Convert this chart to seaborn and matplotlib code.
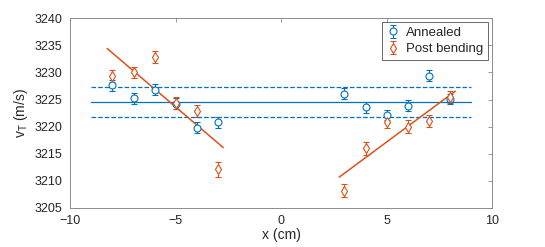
import numpy as np
import pandas as pd
import seaborn as sns
import matplotlib.pyplot as plt

# positions along the bar (cm)
x_left = [-8, -7, -6, -5, -4, -3]
x_right = [3, 4, 5, 6, 7, 8]

# transverse velocity, annealed sample (m/s)
annealed_left = [3227.6, 3225.2, 3226.8, 3224.2, 3219.8, 3220.8]
annealed_right = [3226.1, 3223.6, 3222.1, 3223.9, 3229.4, 3225.1]
annealed_err = [1.0, 1.0, 1.0, 1.0, 1.0, 1.0, 1.0, 1.0, 0.9, 1.0, 1.0, 1.0]

# transverse velocity after bending (m/s)
bent_left = [3229.4, 3230.0, 3232.9, 3224.4, 3222.9, 3212.1]
bent_right = [3208.2, 3216.0, 3220.9, 3220.0, 3221.1, 3225.5]
bent_err = [1.1, 1.1, 1.1, 1.1, 1.1, 1.3, 1.2, 1.2, 1.1, 1.2, 1.1, 1.1]

blue = '#0072BD'
orange = '#D95319'

sns.set_theme(style='white')
plt.rcParams['font.family'] = ['Liberation Sans', 'DejaVu Sans']

fig, ax = plt.subplots(figsize=(5.45, 2.47), dpi=100)
fig.subplots_adjust(left=0.129, right=0.903, top=0.926, bottom=0.158)

x_all = x_left + x_right
ann = np.array(annealed_left + annealed_right)

ax.errorbar(x_all, ann, yerr=annealed_err, fmt='o', color=blue, mfc='white',
            ms=5, mew=0.8, elinewidth=0.8, capsize=2, label='Annealed')
ax.errorbar(x_all, bent_left + bent_right, yerr=bent_err, fmt='d', color=orange,
            mfc='white', ms=5.5, mew=0.8, elinewidth=0.8, capsize=2,
            label='Post bending')

# mean and +/- one std of the annealed data
mean = ann.mean()
std = ann.std(ddof=1)
span = pd.DataFrame({'x': [-9, 9]})
sns.lineplot(x=span['x'], y=[mean, mean], color=blue, lw=0.9, ax=ax)
for s in (-1, 1):
    sns.lineplot(x=span['x'], y=[mean + s * std] * 2, color=blue, lw=0.9,
                 dashes=(6, 4), ax=ax, linestyle='--')

# linear fits to post-bending data on each side
for xs, ys in ((x_left, bent_left), (x_right, bent_right)):
    p = np.polyfit(xs, ys, 1)
    xf = np.array([min(xs) - 0.25, max(xs) + 0.25])
    sns.lineplot(x=xf, y=np.polyval(p, xf), color=orange, lw=1.1, ax=ax)

ax.set_xlim(-10, 10)
ax.set_ylim(3205, 3240)
ax.set_xticks(range(-10, 11, 5))
ax.set_yticks(range(3205, 3241, 5))
ax.set_xlabel('x (cm)', fontsize=10, color='#262626', labelpad=1)
ax.set_ylabel('v$_\\mathregular{T}$ (m/s)', fontsize=10, color='#262626', labelpad=3)
ax.tick_params(direction='in', length=3, width=0.6, top=True, right=True,
               labelsize=9, colors='#262626', color='#8c8c8c')
ax.tick_params(axis='x', pad=5)
ax.tick_params(axis='y', pad=6)
for sp in ax.spines.values():
    sp.set_color('#8c8c8c')
    sp.set_linewidth(0.7)

leg = ax.legend(loc='upper right', fontsize=9.5, frameon=True, fancybox=False,
                edgecolor='#262626', borderpad=0.35, handletextpad=0.5,
                handlelength=1.0, borderaxespad=0.3, labelspacing=0.3)
leg.get_frame().set_linewidth(0.6)

fig.savefig('out.png', dpi=100)
